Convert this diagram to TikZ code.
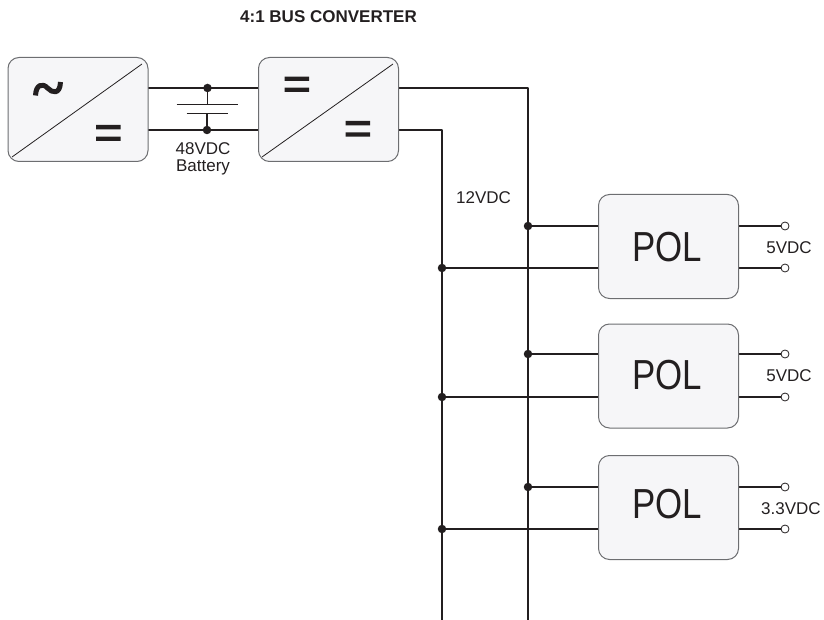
\documentclass[tikz,border=0pt]{standalone}
\usepackage{fontspec}
\setmainfont{Liberation Sans}
\newfontfamily\polfont[FakeStretch=0.83]{Liberation Sans}
\definecolor{boxfill}{HTML}{F6F6F8}
\definecolor{ink}{HTML}{231F20}
\definecolor{boxedge}{HTML}{6D6E71}
\begin{document}
\begin{tikzpicture}[x=1pt,y=-1pt,line join=round,
  conv/.style={draw=boxedge,line width=1pt,fill=boxfill,rounded corners=11pt,minimum width=140pt,minimum height=104pt,inner sep=0pt,anchor=north west},
  wire/.style={draw=ink,line width=1.6pt},
  diag/.style={draw=ink,line width=0.8pt},
  bar/.style={fill=ink,draw=none},
  dot/.style={circle,fill=ink,draw=none,minimum size=8.5pt,inner sep=0pt},
  term/.style={circle,fill=white,draw=ink,line width=0.8pt,minimum size=8pt,inner sep=0pt},
  lbl/.style={text=ink,font=\fontsize{17pt}{17.6pt}\selectfont,inner sep=0pt,align=center},
  pol/.style={text=ink,font=\polfont\fontsize{42pt}{44pt}\selectfont,inner sep=0pt}]
\useasboundingbox (0,0) rectangle (824,620);
\node[text=ink,font=\bfseries\fontsize{17pt}{18pt}\selectfont,inner sep=0pt] (title) at (328.5,17) {4:1 BUS CONVERTER};

% buses
\coordinate (topA) at (398,88);
\coordinate (topB) at (398,130);
\coordinate (busA) at (528,88);
\coordinate (busB) at (442,130);
\coordinate (endA) at (528,620);
\coordinate (endB) at (442,620);
\draw[wire] (topA) -- (busA) -- (endA);
\draw[wire] (topB) -- (busB) -- (endB);

% converters
\coordinate (w1) at (147,88);
\coordinate (w2) at (147,130);
\coordinate (w3) at (258,88);
\coordinate (w4) at (258,130);
\draw[wire] (w1) -- (w3);
\draw[wire] (w2) -- (w4);
\node[conv] (acdc) at (7.5,57) {};
\node[conv] (busc) at (258,57) {};
\draw[diag] (142,64) -- (12,157);
\draw[diag] (393,64) -- (262,157);

% tilde
\draw[ink,line width=5pt] (35.5,95.5) .. controls (36,84) and (43,83) .. (47.5,88) .. controls (52,93) and (60,95) .. (60.5,82);
% equals
\fill[bar] (96,125) rectangle (120.7,129.5) (96,136.7) rectangle (120.7,141);
\fill[bar] (284.5,76.7) rectangle (309,81) (284.5,87.7) rectangle (309,92);
\fill[bar] (345.5,121) rectangle (370,125.5) (345.5,132.3) rectangle (370,136.7);

% battery
\node[dot] (ba) at (207.5,88) {};
\node[dot] (bb) at (207,130) {};
\coordinate (pa) at (207.5,104.5);
\coordinate (pb) at (207,113.5);
\draw[wire] (ba) -- (pa);
\draw[wire] (bb) -- (pb);
\draw[ink,line width=1.3pt] (176.5,104.5) -- (238,104.5);
\draw[ink,line width=1.3pt] (186.5,113.5) -- (228,113.5);
\node[lbl] (batt) at (203,158.8) {48VDC\\Battery};

\node[lbl,anchor=west] (v12) at (456,198) {12VDC};

% POL units
\foreach \n/\t/\a/\b/\v/\ly/\vx/\py in {1/194/226/268/5VDC/248/789/247, 2/323.5/354/397/5VDC/376/789/375, 3/455/487/529/3.3VDC/509/791/504.5}{
  \coordinate (ia\n) at (598,\a);
  \coordinate (ib\n) at (598,\b);
  \node[dot] (ja\n) at (528,\a) {};
  \node[dot] (jb\n) at (442,\b) {};
  \draw[wire] (ja\n) -- (ia\n);
  \draw[wire] (jb\n) -- (ib\n);
  \node[term] (ta\n) at (785,\a) {};
  \node[term] (tb\n) at (785,\b) {};
  \coordinate (oa\n) at (738,\a);
  \coordinate (ob\n) at (738,\b);
  \draw[wire] (oa\n) -- (ta\n);
  \draw[wire] (ob\n) -- (tb\n);
  \node[conv,minimum width=140pt] (pol\n) at (598,\t) {};
  \node[pol] (polt\n) at (667,\py) {POL};
  \node[lbl] (volt\n) at (\vx,\ly) {\v};
}
\end{tikzpicture}
\end{document}
